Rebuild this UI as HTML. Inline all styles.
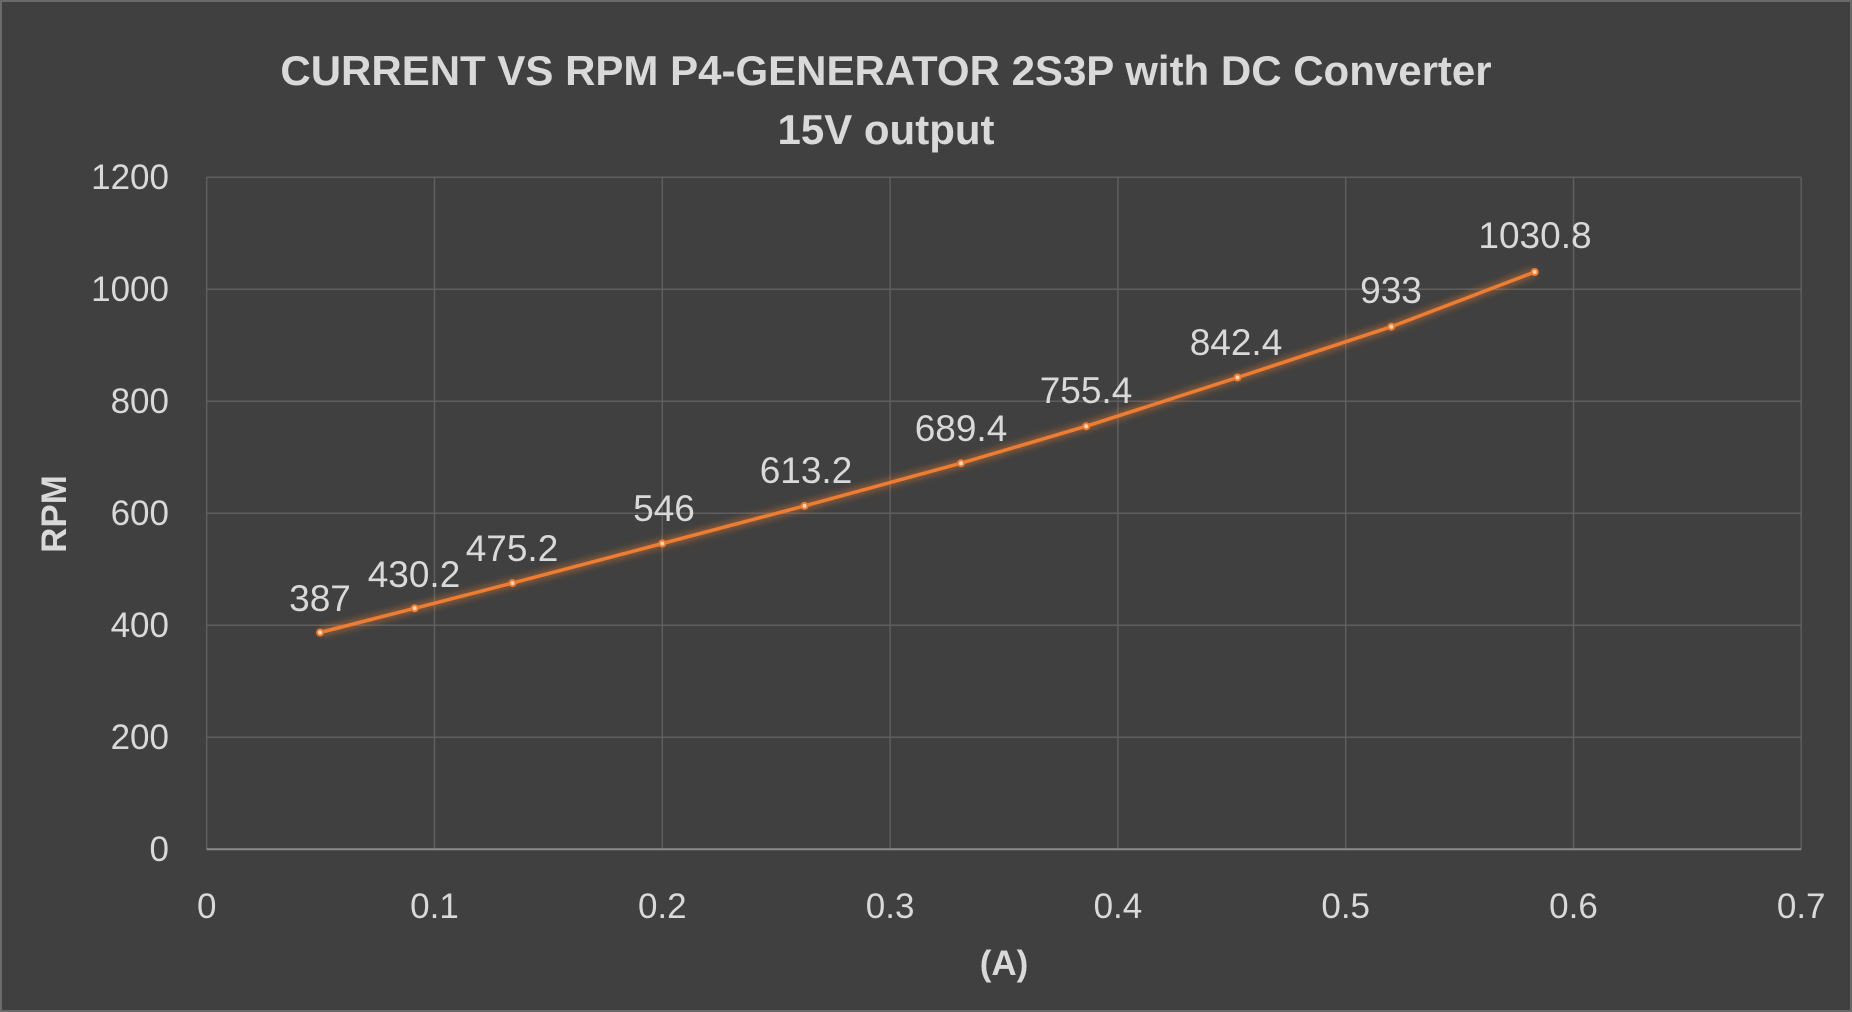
<!DOCTYPE html>
<html><head><meta charset="utf-8"><style>
html,body{margin:0;padding:0;background:#404040;}
svg{display:block;}
text{font-family:"Liberation Sans",sans-serif;}
</style></head><body>
<svg width="1852" height="1012" viewBox="0 0 1852 1012" xmlns="http://www.w3.org/2000/svg">
<defs>
<filter id="glow" x="-10%" y="-10%" width="120%" height="120%">
<feGaussianBlur stdDeviation="4" result="b"/>
<feMerge><feMergeNode in="b"/><feMergeNode in="SourceGraphic"/></feMerge>
</filter>
</defs>
<rect x="0" y="0" width="1852" height="1012" fill="#404040"/>
<rect x="1" y="1" width="1850" height="1010" fill="none" stroke="#6a6a6a" stroke-width="2"/>
<text x="886" y="85" text-anchor="middle" font-size="42" font-weight="bold" fill="#d9d9d9">CURRENT VS RPM P4-GENERATOR 2S3P with DC Converter</text>
<text x="886" y="144" text-anchor="middle" font-size="42" font-weight="bold" fill="#d9d9d9">15V output</text>
<g stroke="#5e5e5e" stroke-width="1.5">
<line x1="206.7" y1="177.2" x2="1801.2" y2="177.2"/>
<line x1="206.7" y1="289.2" x2="1801.2" y2="289.2"/>
<line x1="206.7" y1="401.2" x2="1801.2" y2="401.2"/>
<line x1="206.7" y1="513.2" x2="1801.2" y2="513.2"/>
<line x1="206.7" y1="625.2" x2="1801.2" y2="625.2"/>
<line x1="206.7" y1="737.2" x2="1801.2" y2="737.2"/>
<line x1="206.7" y1="177.2" x2="206.7" y2="849.2"/>
<line x1="434.5" y1="177.2" x2="434.5" y2="849.2"/>
<line x1="662.3" y1="177.2" x2="662.3" y2="849.2"/>
<line x1="890.1" y1="177.2" x2="890.1" y2="849.2"/>
<line x1="1117.9" y1="177.2" x2="1117.9" y2="849.2"/>
<line x1="1345.7" y1="177.2" x2="1345.7" y2="849.2"/>
<line x1="1573.5" y1="177.2" x2="1573.5" y2="849.2"/>
<line x1="1801.2" y1="177.2" x2="1801.2" y2="849.2"/>
</g>
<line x1="206.7" y1="849.2" x2="1801.2" y2="849.2" stroke="#8a8a8a" stroke-width="2"/>
<g font-size="35" fill="#d9d9d9" text-anchor="end">
<text x="169" y="861">0</text>
<text x="169" y="749">200</text>
<text x="169" y="637">400</text>
<text x="169" y="525">600</text>
<text x="169" y="413">800</text>
<text x="169" y="301">1000</text>
<text x="169" y="189">1200</text>
</g>
<g font-size="35" fill="#d9d9d9" text-anchor="middle">
<text x="206.7" y="918">0</text>
<text x="434.5" y="918">0.1</text>
<text x="662.3" y="918">0.2</text>
<text x="890.1" y="918">0.3</text>
<text x="1117.9" y="918">0.4</text>
<text x="1345.7" y="918">0.5</text>
<text x="1573.5" y="918">0.6</text>
<text x="1801.2" y="918">0.7</text>
</g>
<text x="1004" y="975" text-anchor="middle" font-size="35" font-weight="bold" fill="#d9d9d9">(A)</text>
<text transform="translate(66,514) rotate(-90)" text-anchor="middle" font-size="35" font-weight="bold" fill="#d9d9d9">RPM</text>
<polyline filter="url(#glow)" fill="none" stroke="#ED7D31" stroke-width="3.5" stroke-linejoin="round"
points="320.1,632.5 414.7,608.3 512.5,583.1 662.3,543.5 804.5,505.9 961.0,463.2 1086.2,426.2 1237.5,377.5 1391.3,326.7 1534.7,272.0"/>
<g fill="#fbd3b5" stroke="#ED7D31" stroke-width="2">
<circle cx="320.1" cy="632.5" r="3"/><circle cx="414.7" cy="608.3" r="3"/><circle cx="512.5" cy="583.1" r="3"/>
<circle cx="662.3" cy="543.5" r="3"/><circle cx="804.5" cy="505.9" r="3"/><circle cx="961.0" cy="463.2" r="3"/>
<circle cx="1086.2" cy="426.2" r="3"/><circle cx="1237.5" cy="377.5" r="3"/><circle cx="1391.3" cy="326.7" r="3"/>
<circle cx="1534.7" cy="272.0" r="3"/>
</g>
<g font-size="37" fill="#d9d9d9" text-anchor="middle">
<text x="320" y="611">387</text>
<text x="414" y="587">430.2</text>
<text x="512" y="561">475.2</text>
<text x="664" y="521">546</text>
<text x="806" y="483">613.2</text>
<text x="961" y="441">689.4</text>
<text x="1086" y="403">755.4</text>
<text x="1236" y="355">842.4</text>
<text x="1391" y="303">933</text>
<text x="1535" y="248">1030.8</text>
</g>
</svg>
</body></html>
